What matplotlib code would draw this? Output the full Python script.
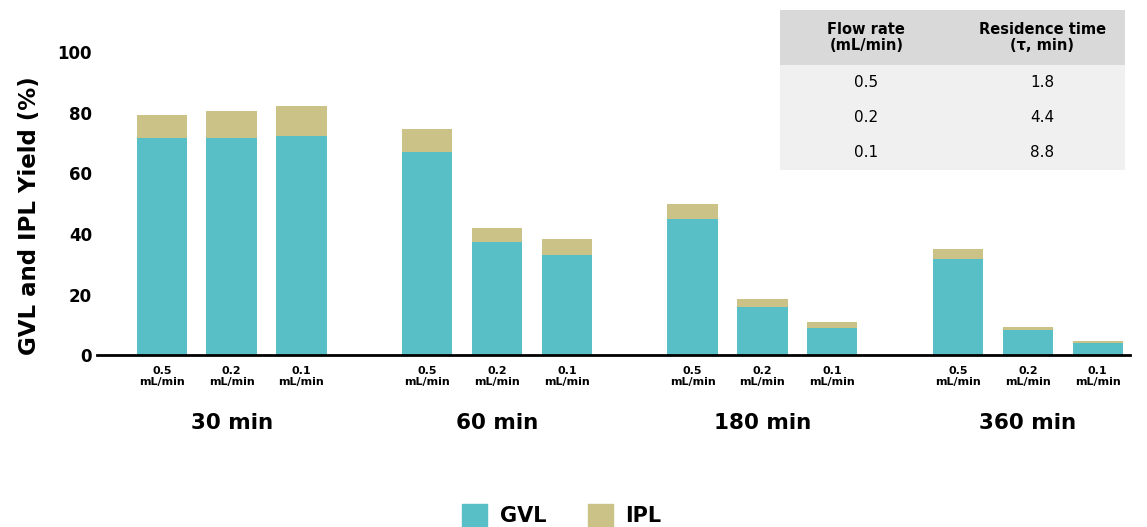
import matplotlib
matplotlib.use("Agg")
import matplotlib.pyplot as plt
from matplotlib.patches import Rectangle, Patch
import numpy as np

plt.rcParams['font.family'] = ['DejaVu Sans']

groups = ["30 min", "60 min", "180 min", "360 min"]
flows = ["0.5\nmL/min", "0.2\nmL/min", "0.1\nmL/min"]
gvl = [71.6, 71.6, 72.5,
       67.2, 37.5, 33.1,
       45.1, 16.0, 9.1,
       31.6, 8.3, 3.9]
total = [79.3, 80.5, 82.2,
         74.6, 42.1, 38.2,
         50.0, 18.4, 10.9,
         35.2, 9.4, 4.7]
ipl = [t - g for t, g in zip(total, gvl)]

table_header = ["Flow rate\n(mL/min)", "Residence time\n(τ, min)"]
table_flow = ["0.5", "0.2", "0.1"]
table_tau = ["1.8", "4.4", "8.8"]

C_GVL = "#57bfc5"
C_IPL = "#cbc288"

fig = plt.figure(figsize=(11.47, 5.27), dpi=100)
ax = fig.add_axes([0.085, 0.326, 0.90, 0.575])

gstep = 3.8
xs = np.array([g * gstep + i for g in range(len(groups)) for i in range(len(flows))])
w = 0.72
ax.bar(xs, gvl, width=w, color=C_GVL, label="GVL")
ax.bar(xs, ipl, width=w, bottom=gvl, color=C_IPL, label="IPL")

ax.set_ylim(0, 100)
ax.set_xlim(-0.92, xs[-1] + 0.46)
ax.set_yticks([0, 20, 40, 60, 80, 100])
ax.tick_params(axis='y', length=0, labelsize=12, pad=4)
for t in ax.get_yticklabels():
    t.set_fontweight('bold')
ax.set_xticks(xs)
ax.set_xticklabels(flows * len(groups), fontsize=8, fontweight='bold', linespacing=1.05)
ax.tick_params(axis='x', length=0, pad=8)
for s in ['top', 'right', 'left']:
    ax.spines[s].set_visible(False)
ax.spines['bottom'].set_linewidth(2)
ax.set_ylabel("GVL and IPL Yield (%)", fontsize=16.5, fontweight='bold')
ax.yaxis.set_label_coords(-0.055, 0.46)

for g, name in enumerate(groups):
    ax.text(g * gstep + 1, -0.225, name, transform=ax.get_xaxis_transform(),
            ha='center', va='center', fontsize=15.5, fontweight='bold')

# table
tax = fig.add_axes([0.680, 0.677, 0.301, 0.304])
tax.set_xlim(0, 1)
tax.set_ylim(0, 1)
tax.axis('off')
hh = 55 / 160
rh = (1 - hh) / 3
tax.add_patch(Rectangle((0, 1 - hh), 1, hh, color="#d9d9d9", lw=0))
tax.add_patch(Rectangle((0, 0), 1, 1 - hh, color="#f0f0f0", lw=0))
cx = [0.25, 0.76]
for j, h in enumerate(table_header):
    tax.text(cx[j], 1 - hh / 2, h, ha='center', va='center', fontsize=10.5,
             fontweight='bold', linespacing=1.15)
for i in range(3):
    yc = 1 - hh - rh * (i + 0.5)
    tax.text(cx[0], yc, table_flow[i], ha='center', va='center', fontsize=11)
    tax.text(cx[1], yc, table_tau[i], ha='center', va='center', fontsize=11)

handles = [Patch(color=C_GVL, label="GVL"), Patch(color=C_IPL, label="IPL")]
fig.legend(handles=handles, loc='center', bbox_to_anchor=(0.49, 0.022), ncol=2,
           frameon=False, prop={'weight': 'bold', 'size': 15},
           handlelength=1.2, handleheight=1.3, columnspacing=2.0, handletextpad=0.6)

fig.savefig("out.png", dpi=100)
